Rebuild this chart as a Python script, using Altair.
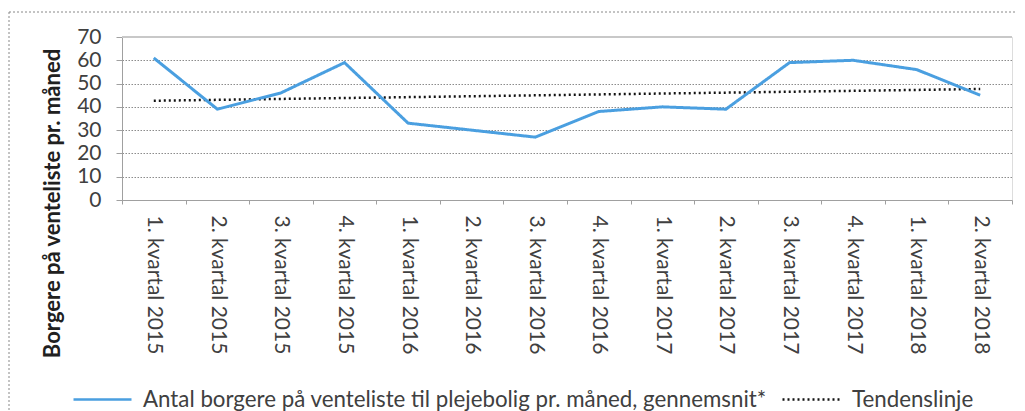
import altair as alt
import pandas as pd

quarters = [
    "1. kvartal 2015", "2. kvartal 2015", "3. kvartal 2015", "4. kvartal 2015",
    "1. kvartal 2016", "2. kvartal 2016", "3. kvartal 2016", "4. kvartal 2016",
    "1. kvartal 2017", "2. kvartal 2017", "3. kvartal 2017", "4. kvartal 2017",
    "1. kvartal 2018", "2. kvartal 2018",
]
values = [61, 39, 46, 59, 33, 30, 27, 38, 40, 39, 59, 60, 56, 45]
series_main = "Antal borgere på venteliste til plejebolig pr. måned, gennemsnit*"
series_trend = "Tendenslinje"
y_ticks = [0, 10, 20, 30, 40, 50, 60, 70]

df = pd.DataFrame({
    "kvartal": quarters,
    "idx": list(range(1, len(quarters) + 1)),
    "value": values,
})

FONT = "Lato"
TXT = "#404040"

xenc = alt.X(
    "kvartal:N",
    sort=quarters,
    scale=alt.Scale(type="band", paddingInner=0, paddingOuter=0),
    bandPosition=0.5,
    axis=alt.Axis(
        title=None, labelAngle=90, labelAlign="left", labelBaseline="middle",
        labelFont=FONT, labelFontSize=21, labelColor=TXT, labelPadding=11,
        tickBand="extent", tickSize=4, tickColor="#a0a0a0",
        domainColor="#a0a0a0", grid=False, labelLimit=300,
    ),
)

yscale = alt.Scale(domain=[0, 70], nice=False)
yaxis = alt.Axis(
    values=y_ticks, title="Borgere på venteliste pr. måned",
    titleFont=FONT, titleFontSize=22, titleFontWeight="bold", titleColor="#202020",
    titleAngle=-90, titleX=-70, titleY=166, titleAlign="center", titleBaseline="middle",
    labelFont=FONT, labelFontSize=21, labelColor=TXT, labelPadding=15,
    tickSize=6, tickColor="#a0a0a0", domainColor="#a0a0a0",
    grid=True, gridColor="#8c8c8c", gridDash=[1.5, 1.5], gridWidth=1.2,
)

legend_cfg = dict(
    title=None, orient="none", direction="horizontal", legendX=-50, legendY=332,
    symbolType="stroke", symbolSize=3364, symbolStrokeWidth=2.5,
    labelFont=FONT, labelFontSize=22.3, labelColor=TXT, labelOffset=10,
    columnPadding=10, labelLimit=900,
)
color = alt.Color(
    "series:N",
    scale=alt.Scale(domain=[series_main, series_trend], range=["#4A9FE0", "#111111"]),
    legend=alt.Legend(**legend_cfg),
)
dash = alt.StrokeDash(
    "series:N",
    scale=alt.Scale(domain=[series_main, series_trend], range=[[1, 0], [2, 3]]),
    legend=alt.Legend(**legend_cfg),
)

base = alt.Chart(df)

top_line = base.mark_rule(color="#c8c8c8", strokeWidth=2).encode(
    y=alt.datum(70, scale=yscale, axis=yaxis)
).transform_filter("datum.idx == 1")

main = base.mark_line(strokeWidth=3).encode(
    x=xenc,
    y=alt.Y("value:Q", scale=yscale, axis=yaxis),
    color=color,
    strokeDash=dash,
).transform_calculate(series=f"'{series_main}'")

trend_calc = base.transform_regression("idx", "value", extent=[1, 14]).transform_calculate(
    series=f"'{series_trend}'",
    kvartal="['" + "','".join(quarters) + "'][datum.idx - 1]",
)
trend = trend_calc.mark_line(strokeWidth=2.5).encode(
    x=xenc,
    y=alt.Y("value:Q", scale=yscale, axis=yaxis),
    color=color,
    strokeDash=dash,
)

frame_left = alt.Chart(df).mark_rule(color="#888888", strokeDash=[2, 2], strokeWidth=1).encode(
    x=alt.value(-113), y=alt.value(-25), y2=alt.value(380)
).transform_filter("datum.idx == 1")
frame_top = alt.Chart(df).mark_rule(color="#888888", strokeDash=[2, 2], strokeWidth=1).encode(
    x=alt.value(-113), x2=alt.value(900), y=alt.value(-25)
).transform_filter("datum.idx == 1")

chart = alt.layer(top_line, trend, main, frame_left, frame_top).properties(
    width=890, height=163,
    autosize=alt.AutoSizeParams(type="none"),
    padding={"left": 114, "top": 29, "right": 5, "bottom": 215},
).configure_view(stroke=None).configure(background="white")

chart.save("out.html", embed_options={"renderer": "svg", "actions": False})
